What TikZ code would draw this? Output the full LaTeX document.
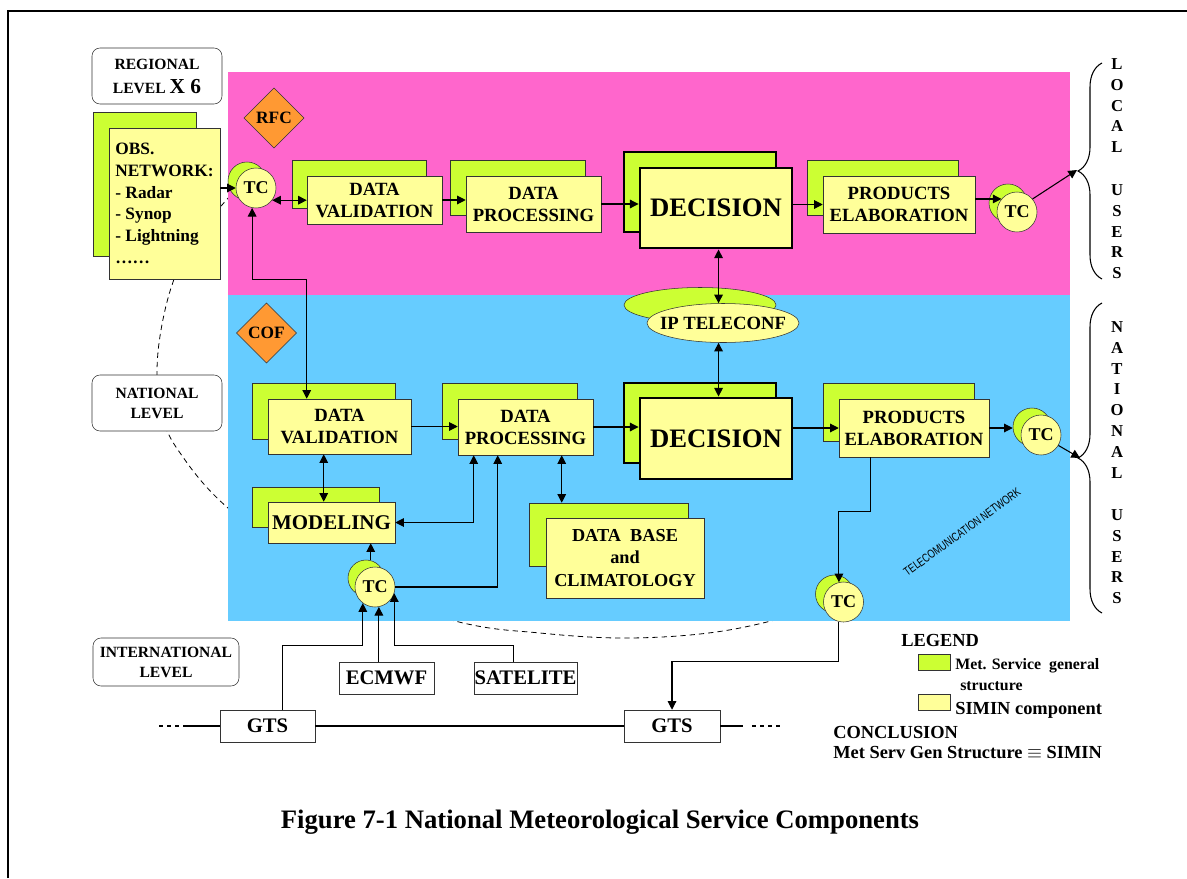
\documentclass[tikz,border=0pt]{standalone}
\usepackage{fontspec}
\setmainfont{Liberation Serif}
\newfontfamily\arialfont{Liberation Sans}
\usetikzlibrary{arrows.meta,calc,shapes.geometric,decorations.pathreplacing}

\definecolor{pinkzone}{HTML}{FF66CC}
\definecolor{bluezone}{HTML}{66CCFF}
\definecolor{metgreen}{HTML}{CCFF33}
\definecolor{siminyellow}{HTML}{FFFF99}
\definecolor{centreorange}{HTML}{FF9933}
\definecolor{boxline}{HTML}{333333}

\newcommand{\pxu}{0.75pt}
\newcommand{\fsz}[2]{\bfseries\fontsize{#1}{#2}\selectfont}

\tikzset{
 back/.style={draw=boxline, fill=metgreen, inner sep=0pt},
 front/.style={draw=boxline, fill=siminyellow, inner sep=0pt, align=center, font=\fsz{14}{16.5}},
 heavy/.style={draw=black, line width=2.2pt},
 tcb/.style={circle, draw=boxline, fill=metgreen, minimum size=38*\pxu, inner sep=0pt},
 tcf/.style={circle, draw=boxline, fill=siminyellow, minimum size=40*\pxu, inner sep=0pt, font=\fsz{13.5}{14}},
 centre/.style={diamond, aspect=1, draw=boxline, fill=centreorange, minimum width=60*\pxu, minimum height=60*\pxu, inner sep=0pt, font=\fsz{13}{14}},
 level/.style={draw=boxline, rounded corners=6pt, fill=white, align=center, inner sep=0pt, font=\fsz{11.7}{15}},
 extbox/.style={draw=boxline, fill=white, inner sep=0pt, font=\fsz{15.5}{16}},
 vlet/.style={font=\fsz{12.5}{13}, inner sep=0pt},
 txt/.style={anchor=west, inner sep=0pt, font=\fsz{13.8}{15}},
 link/.style={line width=0.8pt},
 arr/.style={link, -{Triangle[length=6.5pt,width=6.5pt]}},
 dbl/.style={link, {Triangle[length=6.5pt,width=6.5pt]}-{Triangle[length=6.5pt,width=6.5pt]}},
}

\begin{document}
\begin{tikzpicture}[x=0.75pt, y=-0.75pt]
\useasboundingbox (0,0) rectangle (1187,878);
\draw[line width=1.5pt] (8,878) -- (8,10.5) -- (1187,10.5);

% national level boundary
\draw[dashed, dash pattern=on 4pt off 3pt, line width=0.6pt] plot[smooth, tension=0.6] coordinates {(250,175) (222,205) (190,245) (172,285) (161,330) (157,372) (161,412) (178,450) (228,508) (330,582) (459,622) (540,633) (620,638) (700,634) (767,622) (850,598)};

% zones
\fill[pinkzone] (228,72) rectangle (1070,295);
\fill[bluezone] (228,295) rectangle (1070,621);

% regional row
\node[back, minimum width=103*\pxu, minimum height=144*\pxu] (obsb) at (144.5,184) {};
\node[front, minimum width=111*\pxu, minimum height=151*\pxu, align=left, font=\fsz{13}{16.3}] (obs) at (164.5,203.5) {OBS.\\NETWORK:\\- Radar\\- Synop\\- Lightning\\……};
\node[centre] (rfc) at (274,118) {RFC};
\node[tcb] (tc1b) at (247,181) {};
\node[tcf] (tc1) at (256,188) {TC};
\node[back, minimum width=134*\pxu, minimum height=48*\pxu] (dv1b) at (359,184) {};
\node[front, minimum width=135*\pxu, minimum height=48*\pxu] (dv1) at (374.5,200) {DATA\\VALIDATION};
\node[back, minimum width=135*\pxu, minimum height=55*\pxu] (dp1b) at (517.5,187.5) {};
\node[front, minimum width=135*\pxu, minimum height=56*\pxu] (dp1) at (533.5,204) {DATA\\PROCESSING};
\node[back, heavy, minimum width=152*\pxu, minimum height=80*\pxu] (dec1b) at (700,192) {};
\node[front, heavy, minimum width=152*\pxu, minimum height=80*\pxu, font=\fsz{20}{22}] (dec1) at (716,208) {DECISION};
\node[back, minimum width=151*\pxu, minimum height=55*\pxu] (pe1b) at (882.5,187.5) {};
\node[front, minimum width=152*\pxu, minimum height=57*\pxu] (pe1) at (899,204.5) {PRODUCTS\\ELABORATION};
\node[tcb] (tc2b) at (1008,203) {};
\node[tcf] (tc2) at (1017,212) {TC};

% teleconference
\node[ellipse, back, minimum width=152*\pxu, minimum height=35*\pxu] (ipb) at (700,305) {};
\node[ellipse, front, minimum width=152*\pxu, minimum height=39*\pxu, label={[font=\fsz{14}{16}]center:IP TELECONF}] (ip) at (723,323) {};

% national row
\node[centre] (cof) at (266.5,333) {COF};
\node[back, minimum width=143*\pxu, minimum height=56*\pxu] (dv2b) at (323.5,411) {};
\node[front, minimum width=143*\pxu, minimum height=55*\pxu] (dv2) at (339.5,426.5) {DATA\\VALIDATION};
\node[back, minimum width=135*\pxu, minimum height=56*\pxu] (dp2b) at (509.5,411) {};
\node[front, minimum width=135*\pxu, minimum height=56*\pxu] (dp2) at (525.5,427) {DATA\\PROCESSING};
\node[back, heavy, minimum width=152*\pxu, minimum height=80*\pxu] (dec2b) at (700,423) {};
\node[front, heavy, minimum width=152*\pxu, minimum height=81*\pxu, font=\fsz{20}{22}] (dec2) at (716,438.5) {DECISION};
\node[back, minimum width=151*\pxu, minimum height=58*\pxu] (pe2b) at (898.5,412) {};
\node[front, minimum width=150*\pxu, minimum height=58*\pxu] (pe2) at (914,428) {PRODUCTS\\ELABORATION};
\node[tcb] (tc3b) at (1032,427) {};
\node[tcf] (tc3) at (1041,435) {TC};
\node[back, minimum width=127*\pxu, minimum height=40*\pxu] (modb) at (315.5,507) {};
\node[front, minimum width=127*\pxu, minimum height=41*\pxu, font=\fsz{15.7}{17}] (mod) at (331.5,522.5) {MODELING};
\node[back, minimum width=159*\pxu, minimum height=63*\pxu] (dbb) at (608.5,534.5) {};
\node[front, minimum width=158*\pxu, minimum height=80*\pxu, font=\fsz{13.7}{17}] (db) at (625,558) {DATA~~BASE\\and\\CLIMATOLOGY};
\node[tcb, minimum size=36*\pxu] (tc4b) at (366,578) {};
\node[tcf] (tc4) at (375,587) {TC};
\node[tcb] (tc5b) at (834.5,594) {};
\node[tcf] (tc5) at (843.5,602) {TC};
\node[rotate=36, inner sep=0pt, font=\arialfont\fontsize{9}{9}\selectfont] (telecom) at (962,532) {\scalebox{0.75}[1]{TELECOMUNICATION NETWORK}};

% levels and outside sources
\node[level, minimum width=130*\pxu, minimum height=56*\pxu] (regional) at (157,76) {REGIONAL\\[3pt]LEVEL {\fontsize{16}{16}\selectfont X 6}};
\node[level, minimum width=130*\pxu, minimum height=56*\pxu] (national) at (157,403) {NATIONAL\\LEVEL};
\node[level, minimum width=146*\pxu, minimum height=48*\pxu] (intl) at (166,662) {INTERNATIONAL\\LEVEL};
\node[extbox, minimum width=95*\pxu, minimum height=32*\pxu] (ecm) at (386.5,678) {ECMWF};
\node[extbox, minimum width=103*\pxu, minimum height=32*\pxu] (sat) at (525.5,678) {SATELITE};
\node[extbox, minimum width=95*\pxu, minimum height=32*\pxu] (gts1) at (267.5,726) {GTS};
\node[extbox, minimum width=96*\pxu, minimum height=32*\pxu] (gts2) at (672,726) {GTS};

% connectors, regional
\draw[arr] (obs.east |- tc1.west) -- (tc1.west);
\draw[dbl] (tc1.-37) -- (tc1.-37 -| dv1.west);
\draw[arr] (dv1.east) -- (dv1.east -| dp1.west);
\draw[arr] (dp1.east) -- (dp1.east -| dec1.west);
\draw[arr] (pe1.west -| dec1.east) -- (pe1.west);
\draw[arr] (pe1.east |- tc2.140) -- (tc2.140);
\coordinate (localtip) at (1077,170);
\draw[arr] (tc2.40) -- (localtip);
\coordinate (dvin) at ($(dv2.north west)+(39,0)$);
\draw[dbl] (tc1.259) -- ++(0,72) -| (dvin);
\coordinate (ipx) at ($(dec1.south west)+(80,0)$);
\draw[dbl] (ipx) -- (ipx |- ip.north);
\draw[dbl] (ipx |- ip.south) -- (ipx |- dec2.north);

% connectors, national
\draw[arr] (dv2.east) -- (dv2.east -| dp2.west);
\draw[arr] (dp2.east) -- (dp2.east -| dec2.west);
\draw[arr] (pe2.west -| dec2.east) -- (pe2.west);
\draw[arr] (pe2.east) -- (pe2.east -| tc3b.west);
\coordinate (nattip) at (1080,458);
\draw[arr] (tc3.-31) -- (nattip);
\coordinate (modtop) at ($(mod.north west)+(56,0)$);
\draw[dbl] (modtop) -- (modtop |- dv2.south);
\coordinate (dpleft) at ($(dp2.south west)+(16,0)$);
\draw[dbl] (dpleft) |- (mod.east);
\coordinate (dpmid) at ($(dp2.south west)+(40,0)$);
\draw[arr] (tc4.east) -| (dpmid);
\coordinate (dbtop) at ($(dbb.north west)+(33,0)$);
\draw[dbl] (dbtop) -- (dbtop |- dp2.south);
\coordinate (modbot) at ($(mod.south west)+(103,0)$);
\draw[arr] (modbot |- tc4b.north) -- (modbot);
\coordinate (pedown) at ($(pe2.south west)+(32,0)$);
\draw[arr] (pedown) -- ++(0,54) -| (tc5.103);

% connectors, international
\coordinate (gtsup) at ($(gts1.north west)+(63,0)$);
\draw[arr] (gtsup) -- ++(0,-64) -| (tc4.233);
\draw[arr] (tc4.281 |- ecm.north) -- (tc4.281);
\coordinate (satup) at ($(sat.north west)+(40,0)$);
\draw[arr] (satup) -- ++(0,-16) -| (tc4.-18);
\draw[arr] (tc5.257) -- ++(0,40) -| (gts2.north);
\draw[link] (gts1.east) -- (gts2.west);
\draw[link] (gts1.west) -- ++(-33,0) coordinate (gtsl);
\draw[link, dashed] (gtsl) -- ++(-30,0);
\draw[link] (gts2.east) -- ++(23,0) coordinate (gtsr);
\draw[link, dashed] ($(gtsr)+(9,0)$) -- ++(31,0);

% users
\draw[link, decorate, decoration={brace, amplitude=18pt}] (1102,279) -- (1102,63);
\draw[link, decorate, decoration={brace, amplitude=18pt}] (1102,613) -- (1102,303);
\foreach \ch [count=\k from 0] in {L,O,C,A,L} \node[vlet] (loc\k) at (1117,64+20.8*\k) {\ch};
\foreach \ch [count=\k from 0] in {U,S,E,R,S} \node[vlet] (lus\k) at (1117,190+20.8*\k) {\ch};
\foreach \ch [count=\k from 0] in {N,A,T,I,O,N,A,L} \node[vlet] (nat\k) at (1117,327+20.8*\k) {\ch};
\foreach \ch [count=\k from 0] in {U,S,E,R,S} \node[vlet] (nus\k) at (1117,515+20.8*\k) {\ch};

% legend
\node[txt] (legend) at (901,640) {LEGEND};
\node[back, minimum width=32*\pxu, minimum height=16*\pxu] (keygreen) at (934,662) {};
\node[txt, font=\fsz{11.9}{13}] (keygreentxt) at (955,666) {Met. Service~~general};
\node[txt, font=\fsz{11.9}{13}] (keygreenmore) at (960,686) {structure};
\node[front, minimum width=32*\pxu, minimum height=16*\pxu] (keyyellow) at (934,702) {};
\node[txt] (keyyellowtxt) at (955,710) {SIMIN component};
\node[txt] (concl) at (833,732) {CONCLUSION};
\node[txt] (concltxt) at (833,753) {Met Serv Gen Structure $\equiv$ SIMIN};

\node[font=\fsz{20}{22}] (caption) at (600,822) {Figure 7-1 National Meteorological Service Components};
\end{tikzpicture}
\end{document}
